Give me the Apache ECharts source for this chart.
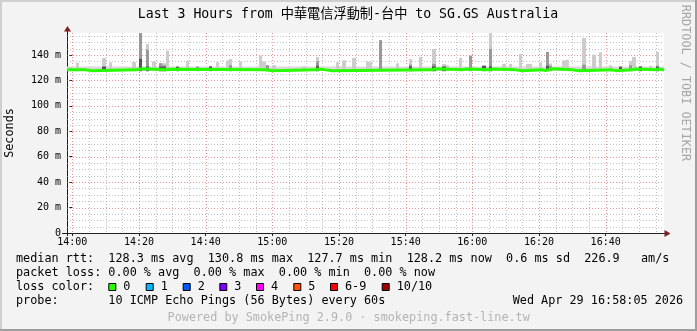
<!DOCTYPE html>
<html><head><meta charset="utf-8">
<script src="https://cdn.jsdelivr.net/npm/echarts@6/dist/echarts.min.js"></script>
<style>html,body{margin:0;padding:0;background:#f3f3f3;}#c{width:697px;height:331px;}</style>
</head><body><div id="c"></div>
<script>
// ---------- data ----------
const titleText = 'Last 3 Hours from 中華電信浮動制-台中 to SG.GS Australia';
const xTickValues = [0, 20, 40, 60, 80, 100, 120, 140, 160];           // minutes after 14:00
const xTickLabels = ['14:00','14:20','14:40','15:00','15:20','15:40','16:00','16:20','16:40'];
const yTickValues = [0, 20, 40, 60, 80, 100, 120, 140];                // ms
const yTickLabels = ['0','20 m','40 m','60 m','80 m','100 m','120 m','140 m'];
const xRange = [-1.6, 177.5];
const yRange = [0, 157.3];

// median rtt (ms), step changes at minute offsets
const medianTime  = [-1.6, 4, 6, 19, 21, 28, 29, 58, 60, 73, 74, 76, 78, 108, 109, 117, 118, 125, 126, 133, 135, 141, 142, 144, 150, 152, 162, 163, 168, 169, 175, 176, 177.5];
const medianValue = [128.3,127.7,128.3,129.2,128.3,128.8,128.3,127.7,128.3,129.0,128.3,127.7,128.3,129.2,128.3,129.0,128.3,129.0,128.3,127.7,128.3,127.7,129.2,128.3,127.7,128.3,127.7,128.3,129.0,128.3,129.0,128.2,128.2];

// smoke columns: minute, max ping, inner ping band, core band (0 = none)
const smokeTime = [-1, 1, 9, 11, 18, 20, 22, 24, 26, 27, 28, 31, 34, 37, 41, 43, 46, 47, 50, 56, 57, 58, 60, 69, 73, 79, 81, 84, 88, 89, 92, 97, 101, 104, 108, 111, 112, 116, 119, 123, 125, 129, 131, 134, 136, 137, 140, 142, 143, 147, 148, 153, 156, 158, 161, 164, 167, 168, 170, 173, 175];
const smokeMax  = [130.6, 134, 137.7, 134.2, 134.5, 158, 148.7, 135, 133.6, 133.6, 143.5, 131, 135.6, 131, 131.2, 134.3, 135.8, 136.9, 135, 139.5, 134.8, 132, 132, 131, 138.5, 134.3, 135.8, 137.7, 134.8, 134.8, 151.6, 133.5, 136.9, 138.5, 144.8, 133, 132, 137.7, 139.5, 132, 158, 133, 133, 140.8, 133, 133, 134.3, 142.4, 133.3, 135.8, 136.3, 153.4, 140.3, 142.2, 132, 131, 135, 138.5, 131, 131.5, 142.4];
const smokeMid  = [0, 0, 131, 0, 0, 158, 144.2, 0, 133.6, 132, 0, 0, 0, 130.8, 0, 0, 0, 132, 0, 0, 0, 132, 0, 0, 135, 0, 0, 0, 0, 0, 151.6, 0, 132.5, 0, 133, 0, 0, 0, 139.5, 0, 144.8, 0, 0, 0, 0, 0, 0, 142.4, 131.5, 0, 0, 132.4, 0, 0, 0, 0, 132, 0, 0, 0, 131.5];
const smokeCore = [0, 0, 130.8, 0, 0, 137, 131, 0, 130.8, 130.8, 0, 130.8, 0, 0, 131, 0, 0, 0, 0, 0, 0, 0, 0, 0, 131.5, 0, 0, 0, 0, 0, 0, 0, 131, 0, 131, 131, 0, 0, 0, 131.5, 131, 0, 0, 0, 0, 0, 0, 131.5, 0, 0, 0, 0, 0, 0, 0, 130.8, 0, 0, 131, 0, 130.8];
const smokeFloor = 127.3;
const smokeBand = [127.4, 131.0];

const lossLabels = ['0','1','2','3','4','5','6-9','10/10'];
const lossColors = ['#26ff00','#00b8ff','#0059ff','#7e00ff','#ff00ff','#ff5500','#ff0000','#a10000'];

const legendRtt   = 'median rtt:  128.3 ms avg  130.8 ms max  127.7 ms min  128.2 ms now  0.6 ms sd  226.9   am/s';
const legendLoss  = 'packet loss: 0.00 % avg  0.00 % max  0.00 % min  0.00 % now';
const legendColor = 'loss color:';
const legendProbe = 'probe:       10 ICMP Echo Pings (56 Bytes) every 60s';
const legendDate  = 'Wed Apr 29 16:58:05 2026';
const footerText  = 'Powered by SmokePing 2.9.0 · smokeping.fast-line.tw';
const sideText    = 'RRDTOOL / TOBI OETIKER';

// ---------- layout ----------
const MONO = "'DejaVu Sans Mono', 'Noto Sans CJK TC', monospace";
const LF = 11.8;
const lossBoxX = [108.3, 145.7, 182.7, 219.3, 256, 293.3, 330, 381.7];

// grid line items [x, y, kind] kind: 0 minor vertical, 1 major vertical, 2 minor horizontal, 3 major horizontal
const gridItems = [];
for (let m = 0; m <= 175; m += 5) gridItems.push([m, yRange[0], m % 20 === 0 ? 1 : 0]);
for (let v = 5; v <= 155; v += 5) gridItems.push([xRange[0], v, v % 20 === 0 ? 3 : 2]);

const chart = echarts.init(document.getElementById('c'), null, {renderer: 'canvas'});

const txt = (text, x, y, extra) => ({
  type: 'text', x: x, y: y, silent: true,
  style: Object.assign({text: text, fontFamily: MONO, fontSize: LF, fill: '#000', align: 'left', verticalAlign: 'middle'}, extra || {})
});

const graphics = [
  {type: 'rect', shape: {x: 0, y: 0, width: 697, height: 2}, style: {fill: '#cfcfcf'}, silent: true},
  {type: 'rect', shape: {x: 0, y: 0, width: 2, height: 331}, style: {fill: '#cfcfcf'}, silent: true},
  {type: 'rect', shape: {x: 695, y: 0, width: 2, height: 331}, style: {fill: '#9e9e9e'}, silent: true},
  {type: 'rect', shape: {x: 0, y: 329, width: 697, height: 2}, style: {fill: '#9e9e9e'}, silent: true},
  txt(titleText, 348, 15, {fontSize: 13.2, align: 'center'}),
  {type: 'text', x: 10, y: 133, rotation: Math.PI / 2, silent: true,
   style: {text: 'Seconds', fontFamily: MONO, fontSize: LF, fill: '#000', align: 'center', verticalAlign: 'middle'}},
  {type: 'text', x: 685, y: 83, rotation: -Math.PI / 2, silent: true,
   style: {text: sideText, fontFamily: MONO, fontSize: LF, fill: '#a6a6a6', align: 'center', verticalAlign: 'middle'}},
  txt(legendRtt, 16, 259.3),
  txt(legendLoss, 16, 273),
  txt(legendColor, 16, 287),
  txt(legendProbe, 16, 300.7),
  txt(legendDate, 512.7, 300.7),
  txt(footerText, 348.7, 317.7, {fill: '#b4b4b4', align: 'center'}),
  // axis arrows and extensions
  {type: 'line', shape: {x1: 67.5, y1: 30, x2: 67.5, y2: 236}, style: {stroke: '#1f1f1f', lineWidth: 1}, silent: true},
  {type: 'line', shape: {x1: 62, y1: 233.5, x2: 666, y2: 233.5}, style: {stroke: '#1f1f1f', lineWidth: 1}, silent: true},
  {type: 'polygon', shape: {points: [[64, 31.5], [71, 31.5], [67.5, 26]]}, style: {fill: '#7f1f1f'}, silent: true},
  {type: 'polygon', shape: {points: [[664.5, 230], [664.5, 237], [670.5, 233.5]]}, style: {fill: '#7f1f1f'}, silent: true}
];
lossLabels.forEach((l, i) => {
  graphics.push({type: 'rect', shape: {x: lossBoxX[i] + 0.5, y: 283.5, width: 7, height: 7},
    style: {fill: lossColors[i], stroke: '#000', lineWidth: 1}, silent: true});
  graphics.push(txt(l, lossBoxX[i] + 15, 287));
});

chart.setOption({
  animation: false,
  backgroundColor: '#f3f3f3',
  grid: {left: 67, top: 33, width: 597, height: 200, show: true, backgroundColor: '#ffffff', borderWidth: 0},
  xAxis: {
    type: 'value', min: xRange[0], max: xRange[1],
    axisLine: {show: false},
    axisTick: {show: true, customValues: xTickValues, length: 3, lineStyle: {color: '#1f1f1f'}},
    axisLabel: {
      customValues: xTickValues, margin: 4,
      fontFamily: MONO, fontSize: 10, color: '#000',
      formatter: v => { const i = xTickValues.indexOf(Math.round(v)); return i >= 0 ? xTickLabels[i] : ''; }
    },
    splitLine: {show: false}
  },
  yAxis: {
    type: 'value', min: yRange[0], max: yRange[1],
    axisLine: {show: false},
    axisTick: {show: true, customValues: yTickValues, length: 3, lineStyle: {color: '#1f1f1f'}},
    axisLabel: {
      customValues: yTickValues, margin: 6,
      fontFamily: MONO, fontSize: 10, color: '#000',
      formatter: v => { const i = yTickValues.indexOf(Math.round(v)); return i >= 0 ? yTickLabels[i] : ''; }
    },
    splitLine: {show: false}
  },
  graphic: graphics,
  series: [
    {
      type: 'custom', name: 'grid', silent: true, z: 1,
      encode: {x: 0, y: 1},
      data: gridItems,
      renderItem: (params, api) => {
        const cs = params.coordSys;
        const k = api.value(2);
        const major = (k === 1 || k === 3);
        const style = {stroke: major ? 'rgba(222,80,80,0.6)' : 'rgba(143,143,143,0.55)', lineWidth: 1, lineDash: [1, 2]};
        if (k < 2) {
          const x = Math.round(api.coord([api.value(0), 0])[0]) + 0.5;
          return {type: 'line', shape: {x1: x, y1: cs.y, x2: x, y2: cs.y + cs.height}, style: style};
        }
        const y = Math.round(api.coord([0, api.value(1)])[1]) + 0.5;
        return {type: 'line', shape: {x1: cs.x, y1: y, x2: cs.x + cs.width, y2: y}, style: style};
      }
    },
    {
      type: 'custom', name: 'band', silent: true, z: 2,
      encode: {x: 0, y: 1},
      data: [[xRange[0], smokeBand[0], xRange[1], smokeBand[1]]],
      renderItem: (params, api) => {
        const p0 = api.coord([api.value(0), api.value(3)]);
        const p1 = api.coord([api.value(2), api.value(1)]);
        const r = echarts.graphic.clipRectByRect({x: p0[0], y: p0[1], width: p1[0] - p0[0], height: p1[1] - p0[1]}, params.coordSys);
        return r ? {type: 'rect', shape: r, style: {fill: '#d9d9d9'}} : null;
      }
    },
    {
      type: 'custom', name: 'smoke', silent: true, z: 3,
      encode: {x: 0, y: 1},
      data: smokeTime.map((t, i) => [t, smokeMax[i], smokeMid[i], smokeCore[i]]),
      renderItem: (params, api) => {
        const t = api.value(0);
        const cs = params.coordSys;
        const x0 = Math.round(api.coord([t, 0])[0]);
        const x1 = Math.round(api.coord([t + 1, 0])[0]);
        const base = api.coord([t, smokeFloor])[1];
        const children = [];
        [[api.value(1), '#cccccc'], [api.value(2), '#999999'], [api.value(3), '#555555']].forEach(([v, c]) => {
          if (!v) return;
          const yTop = api.coord([t, v])[1];
          const r = echarts.graphic.clipRectByRect({x: x0, y: yTop, width: x1 - x0, height: base - yTop}, cs);
          if (r) children.push({type: 'rect', shape: r, style: {fill: c}});
        });
        return {type: 'group', children: children};
      }
    },
    {
      type: 'line', name: 'median rtt', z: 4, step: 'end', showSymbol: false, silent: true, clip: true,
      data: medianTime.map((t, i) => [t, medianValue[i]]),
      lineStyle: {color: '#26ff00', width: 3}
    }
  ]
});
</script></body></html>
